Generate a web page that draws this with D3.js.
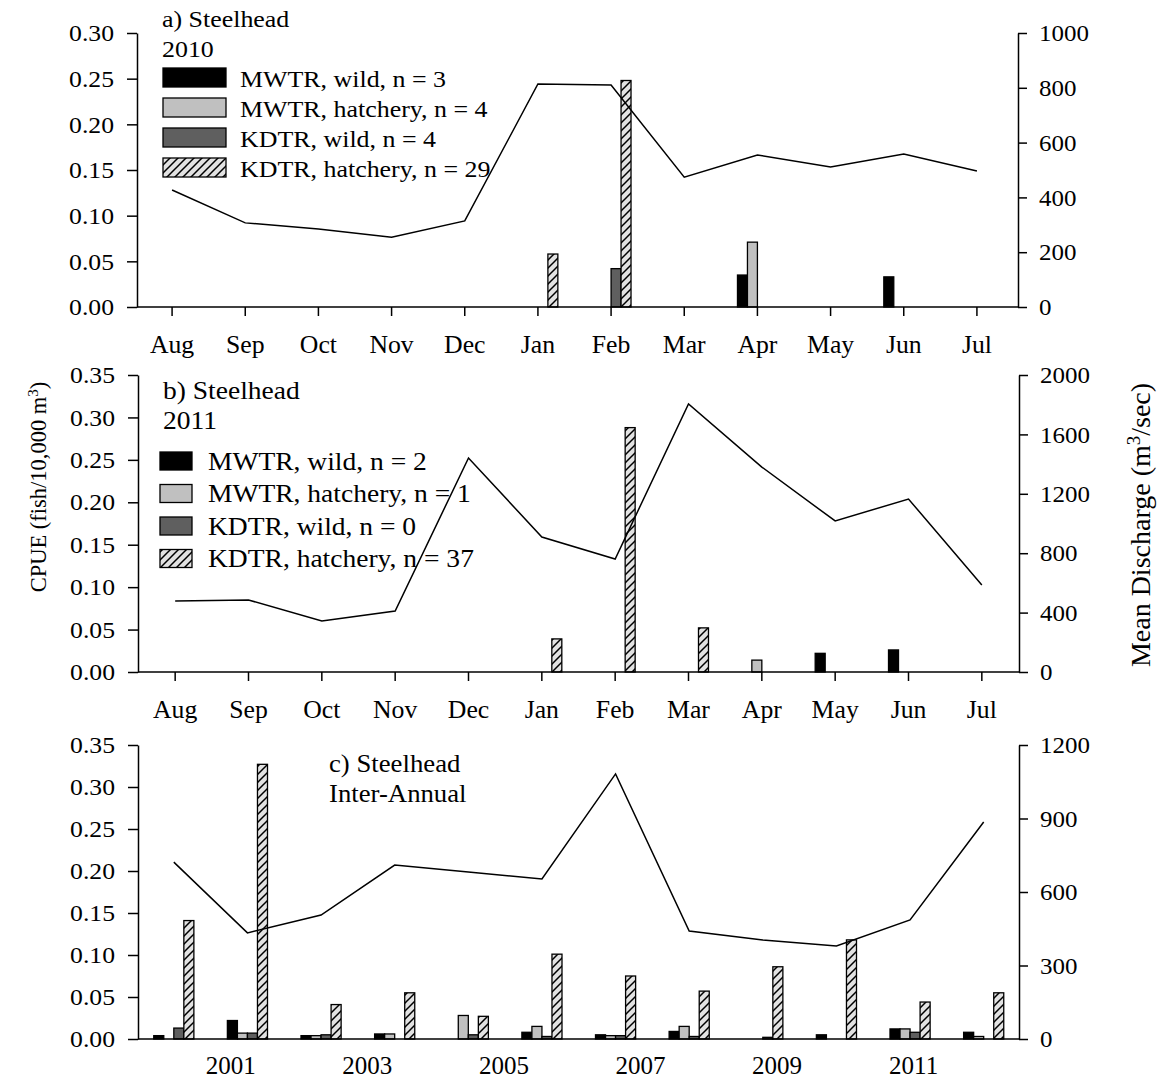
<!DOCTYPE html>
<html>
<head>
<meta charset="utf-8">
<script src="https://cdn.jsdelivr.net/npm/d3@7"></script>
<style>
  body { margin: 0; background: #fff; }
  svg text { font-family: "Liberation Serif", "Times New Roman", serif; fill: #000; }
</style>
</head>
<body>
<svg id="chart" width="1163" height="1080"></svg>
<script>
// ---- data ----
const months = ["Aug", "Sep", "Oct", "Nov", "Dec", "Jan", "Feb", "Mar", "Apr", "May", "Jun", "Jul"];
const years = [2000, 2001, 2002, 2003, 2004, 2005, 2006, 2007, 2008, 2009, 2010, 2011];
const yearTickLabels = [2001, 2003, 2005, 2007, 2009, 2011];
const seriesNames = ["MWTR, wild", "MWTR, hatchery", "KDTR, wild", "KDTR, hatchery"];

// a) 2010, CPUE (fish/10,000 m3) by month
const mwtrWild2010  = [0, 0, 0, 0, 0, 0, 0,     0, 0.035, 0, 0.033, 0];
const mwtrHatch2010 = [0, 0, 0, 0, 0, 0, 0,     0, 0.071, 0, 0,     0];
const kdtrWild2010  = [0, 0, 0, 0, 0, 0, 0.042, 0, 0,     0, 0,     0];
const kdtrHatch2010 = [0, 0, 0, 0, 0, 0.058, 0.248, 0, 0, 0, 0,     0];
const discharge2010 = [427, 307, 285, 255, 314, 814, 810, 474, 555, 511, 558, 496];
const n2010 = [3, 4, 4, 29];

// b) 2011
const mwtrWild2011  = [0, 0, 0, 0, 0, 0,     0,     0,     0,     0.022, 0.026, 0];
const mwtrHatch2011 = [0, 0, 0, 0, 0, 0,     0,     0,     0.014, 0,     0,     0];
const kdtrWild2011  = [0, 0, 0, 0, 0, 0,     0,     0,     0,     0,     0,     0];
const kdtrHatch2011 = [0, 0, 0, 0, 0, 0.039, 0.288, 0.052, 0,     0,     0,     0];
const discharge2011 = [478, 485, 343, 411, 1441, 909, 761, 1805, 1380, 1017, 1165, 586];
const n2011 = [2, 1, 0, 37];

// c) inter-annual
const mwtrWildAnnual  = [0.004, 0.022, 0.004, 0.006, 0,     0.008, 0.005, 0.009, 0,     0.005, 0.012, 0.008];
const mwtrHatchAnnual = [0,     0.007, 0.004, 0.006, 0.028, 0.015, 0.004, 0.015, 0,     0,     0.012, 0.003];
const kdtrWildAnnual  = [0.013, 0.007, 0.005, 0,     0.005, 0.003, 0.004, 0.003, 0.002, 0,     0.008, 0];
const kdtrHatchAnnual = [0.141, 0.327, 0.041, 0.055, 0.027, 0.101, 0.075, 0.057, 0.086, 0.118, 0.044, 0.055];
const dischargeAnnual = [722, 433, 506, 710, 682, 653, 1082, 441, 404, 380, 486, 886];

// axis ticks
const cpueTicksA = [0, 0.05, 0.10, 0.15, 0.20, 0.25, 0.30];
const cpueTicksBC = [0, 0.05, 0.10, 0.15, 0.20, 0.25, 0.30, 0.35];
const dischargeTicksA = [0, 200, 400, 600, 800, 1000];
const dischargeTicksB = [0, 400, 800, 1200, 1600, 2000];
const dischargeTicksC = [0, 300, 600, 900, 1200];

// ---- drawing ----
const svg = d3.select("#chart");
const defs = svg.append("defs");
const hatch = defs.append("pattern")
  .attr("id", "hatch").attr("patternUnits", "userSpaceOnUse")
  .attr("width", 8).attr("height", 8);
hatch.append("rect").attr("width", 8).attr("height", 8).attr("fill", "#e2e2e2");
hatch.append("path").attr("d", "M-2,2 L2,-2 M0,8 L8,0 M6,10 L10,6")
  .attr("stroke", "#000").attr("stroke-width", 1.5);

const fills = ["#000000", "#c0c0c0", "#5f5f5f", "url(#hatch)"];

// widen Times glyphs a little, keeping each text's anchor point in place
function stretch(sel, s) {
  sel.each(function () {
    const t = d3.select(this);
    const x = +t.attr("x") || 0;
    t.attr("x", x / s).attr("transform", `scale(${s},1)`);
  });
}

const panels = [
  { top: 33, bottom: 307, axisL: 137, axisR: 1018, band: [135.5, 1013.5],
    cpueMax: 0.30, cpueTicks: cpueTicksA, dMax: 1000, dTicks: dischargeTicksA,
    series: [mwtrWild2010, mwtrHatch2010, kdtrWild2010, kdtrHatch2010],
    discharge: discharge2010, mode: "month",
    title: ["a) Steelhead", "2010"], n: n2010,
    legend: { x: 163, titleX: 162, titleY: 27, titleStep: 30, rowY: 87, step: 30, sw: 63, sh: 19, textX: 240, size: 24 } },
  { top: 375, bottom: 672, axisL: 138, axisR: 1019, band: [138.5, 1018.5],
    cpueMax: 0.35, cpueTicks: cpueTicksBC, dMax: 2000, dTicks: dischargeTicksB,
    series: [mwtrWild2011, mwtrHatch2011, kdtrWild2011, kdtrHatch2011],
    discharge: discharge2011, mode: "month",
    title: ["b) Steelhead", "2011"], n: n2011,
    legend: { x: 160, titleX: 163, titleY: 399, titleStep: 30, rowY: 470, step: 32.5, sw: 32, sh: 18, textX: 208, size: 25.5 } },
  { top: 745, bottom: 1039, axisL: 138, axisR: 1019, band: [137, 1020.5],
    cpueMax: 0.35, cpueTicks: cpueTicksBC, dMax: 1200, dTicks: dischargeTicksC,
    series: [mwtrWildAnnual, mwtrHatchAnnual, kdtrWildAnnual, kdtrHatchAnnual],
    discharge: dischargeAnnual, mode: "year",
    title: ["c) Steelhead", "Inter-Annual"], titleX: 329, titleY: 772 }
];

panels.forEach(p => {
  const g = svg.append("g");
  const cats = p.mode === "month" ? months : years;
  const x0 = d3.scaleBand().domain(cats).range(p.band);
  const groupW = x0.bandwidth() * 0.545;
  const x1 = d3.scaleBand().domain(d3.range(4)).range([-groupW / 2, groupW / 2]);
  const xc = c => x0(c) + x0.bandwidth() / 2;
  const y = d3.scaleLinear().domain([0, p.cpueMax]).range([p.bottom, p.top]);
  const y2 = d3.scaleLinear().domain([0, p.dMax]).range([p.bottom, p.top]);

  // bars
  p.series.forEach((vals, k) => {
    g.append("g").selectAll("rect")
      .data(vals.map((v, i) => ({ v, c: cats[i] })).filter(d => d.v > 0))
      .join("rect")
      .attr("x", d => xc(d.c) + x1(k))
      .attr("width", x1.bandwidth())
      .attr("y", d => y(d.v))
      .attr("height", d => y(0) - y(d.v))
      .attr("fill", fills[k])
      .attr("stroke", "#000").attr("stroke-width", 1.3);
  });

  // discharge line
  g.append("path")
    .datum(p.discharge.map((v, i) => ({ v, c: cats[i] })))
    .attr("fill", "none").attr("stroke", "#000").attr("stroke-width", 1.5)
    .attr("d", d3.line().x(d => xc(d.c)).y(d => y2(d.v)));

  // axes
  const left = g.append("g").attr("transform", `translate(${p.axisL},0)`)
    .call(d3.axisLeft(y).tickValues(p.cpueTicks).tickFormat(d3.format(".2f")).tickSize(10).tickPadding(13).tickSizeOuter(0));
  const right = g.append("g").attr("transform", `translate(${p.axisR},0)`)
    .call(d3.axisRight(y2).tickValues(p.dTicks).tickFormat(d3.format("d")).tickSize(9).tickPadding(12).tickSizeOuter(0));
  let bottom;
  if (p.mode === "month") {
    bottom = g.append("g").attr("transform", `translate(0,${p.bottom})`)
      .call(d3.axisBottom(x0).tickSize(9).tickPadding(19).tickSizeOuter(0));
  } else {
    const xYear = d3.scaleLinear().domain([1999.65, 2012.55]).range([p.axisL, p.axisR]);
    bottom = g.append("g").attr("transform", `translate(0,${p.bottom})`)
      .call(d3.axisBottom(xYear).tickValues(yearTickLabels).tickFormat(d3.format("d")).tickSize(0).tickPadding(17).tickSizeOuter(0));
  }
  // keep the bottom axis line spanning the two value axes
  bottom.select(".domain").attr("d", `M${p.axisL},0H${p.axisR}`);
  [left, right, bottom].forEach(a => {
    a.selectAll("path, line").attr("stroke", "#000").attr("stroke-width", 1.5);
    a.selectAll("text").attr("font-size", 24).attr("fill", "#000")
      .style("font-family", '"Liberation Serif", "Times New Roman", serif');
  });
  stretch(left.selectAll("text"), 1.07);
  stretch(right.selectAll("text"), 1.04);
  bottom.selectAll("text").attr("font-size", 25);
  if (p.mode === "month") stretch(bottom.selectAll("text"), 1.03);

  // titles and legend
  if (p.legend) {
    const L = p.legend;
    stretch(g.append("text").attr("x", L.titleX).attr("y", L.titleY).attr("font-size", L.size).text(p.title[0]), 1.08);
    stretch(g.append("text").attr("x", L.titleX).attr("y", L.titleY + L.titleStep).attr("font-size", L.size).text(p.title[1]), 1.08);
    seriesNames.forEach((name, k) => {
      const by = L.rowY + k * L.step;
      g.append("rect").attr("x", L.x).attr("y", by - L.sh).attr("width", L.sw).attr("height", L.sh)
        .attr("fill", fills[k]).attr("stroke", "#000").attr("stroke-width", 1.3);
      stretch(g.append("text").attr("x", L.textX).attr("y", by).attr("font-size", L.size)
        .text(`${name}, n = ${p.n[k]}`), 1.08);
    });
  } else {
    stretch(g.append("text").attr("x", p.titleX).attr("y", p.titleY).attr("font-size", 25).text(p.title[0]), 1.07);
    stretch(g.append("text").attr("x", p.titleX).attr("y", p.titleY + 30).attr("font-size", 25).text(p.title[1]), 1.07);
  }
});

// shared axis titles
const yTitle = svg.append("text")
  .attr("transform", "translate(46,487) rotate(-90)")
  .attr("text-anchor", "middle").attr("font-size", 22.5);
yTitle.append("tspan").text("CPUE (fish/10,000 m");
yTitle.append("tspan").attr("baseline-shift", "super").attr("font-size", 15).text("3");
yTitle.append("tspan").text(")");

const y2Title = svg.append("text")
  .attr("transform", "translate(1150,525) rotate(-90)")
  .attr("text-anchor", "middle").attr("font-size", 28);
y2Title.append("tspan").text("Mean Discharge (m");
y2Title.append("tspan").attr("baseline-shift", "super").attr("font-size", 19).text("3");
y2Title.append("tspan").text("/sec)");
</script>
</body>
</html>
